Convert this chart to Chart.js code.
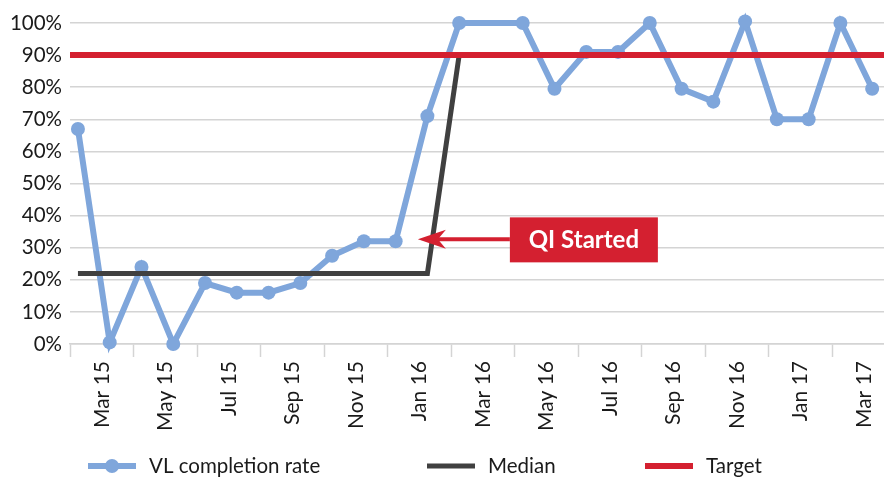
<!DOCTYPE html>
<html><head><meta charset="utf-8">
<script src="https://cdn.jsdelivr.net/npm/chart.js@4.4.0/dist/chart.umd.min.js"></script>
<style>
html,body{margin:0;padding:0;overflow:hidden;background:#fff;width:884px;height:477px}
#wrap{position:relative;width:910px;height:490px}
</style>
</head><body><div id="wrap"><canvas id="c" width="910" height="490"></canvas></div>
<script>
// ---- data ----
const months = ['Feb 15','Mar 15','Apr 15','May 15','Jun 15','Jul 15','Aug 15','Sep 15','Oct 15','Nov 15','Dec 15','Jan 16',
  'Feb 16','Mar 16','Apr 16','May 16','Jun 16','Jul 16','Aug 16','Sep 16','Oct 16','Nov 16','Dec 16','Jan 17','Feb 17','Mar 17'];
const vlCompletion = [67, 0.5, 24, 0, 19, 16, 16, 19, 27.5, 32, 32, 71,
  100, null, 100, 79.5, 91, 91, 100, 79.5, 75.5, 100.5, 70, 70, 100, 79.5];
const medianValues = [22,22,22,22,22,22,22,22,22,22,22,22,
  90,90,90,90,90,90,90,90,90,90,90,90,90,90];
const targetValue = 90;
const yTickValues = [0,10,20,30,40,50,60,70,80,90,100];
const legendNames = ['VL completion rate','Median','Target'];
const annotationText = 'QI Started';

// ---- styles ----
const BLUE = '#7fa6db', DARK = '#404040', RED = '#d42030', GRID = '#d4d4d4', TXT = '#1a1a1a';
const FONT = 'Lato, "Open Sans", sans-serif';
const X_MIN = -0.25, X_MAX = months.length - 0.25;

const blueData = months.map((m, i) => ({x: i, y: vlCompletion[i]}));
const medianData = months.map((m, i) => ({x: i, y: medianValues[i]}));
const targetData = [{x: X_MIN, y: targetValue}, {x: X_MAX, y: targetValue}];

const annotationPlugin = {
  id: 'qiAnnot',
  afterDatasetsDraw(chart) {
    const {ctx, scales: {x, y}} = chart;
    const tipX = x.getPixelForValue(10.7), tipY = y.getPixelForValue(32.6);
    const boxL = tipX + 92, boxW = 148, boxH = 45;
    ctx.save();
    ctx.fillStyle = RED;
    ctx.fillRect(boxL, tipY - 22, boxW, boxH);
    ctx.strokeStyle = RED; ctx.lineWidth = 4;
    ctx.beginPath(); ctx.moveTo(boxL, tipY); ctx.lineTo(tipX + 20, tipY); ctx.stroke();
    ctx.beginPath();
    ctx.moveTo(tipX, tipY); ctx.lineTo(tipX + 28, tipY - 9.5); ctx.lineTo(tipX + 20, tipY); ctx.lineTo(tipX + 28, tipY + 9.5);
    ctx.closePath(); ctx.fill();
    ctx.fillStyle = '#fff';
    ctx.font = 'bold 24px ' + FONT;
    ctx.textAlign = 'center'; ctx.textBaseline = 'middle';
    ctx.fillText(annotationText, boxL + boxW / 2, tipY + 1);
    ctx.restore();
  }
};

const legendPlugin = {
  id: 'customLegend',
  afterDraw(chart) {
    const ctx = chart.ctx;
    const cy = 466;
    const items = [
      {x: 88, color: BLUE, w: 6, dot: true, text: legendNames[0]},
      {x: 427, color: DARK, w: 5, dot: false, text: legendNames[1]},
      {x: 645, color: RED, w: 6, dot: false, text: legendNames[2]}
    ];
    ctx.save();
    items.forEach(it => {
      ctx.strokeStyle = it.color; ctx.lineWidth = it.w;
      ctx.beginPath(); ctx.moveTo(it.x, cy); ctx.lineTo(it.x + 48, cy); ctx.stroke();
      if (it.dot) {
        ctx.fillStyle = it.color;
        ctx.beginPath(); ctx.arc(it.x + 24, cy, 7, 0, Math.PI * 2); ctx.fill();
      }
      ctx.fillStyle = TXT;
      ctx.font = '20.5px ' + FONT;
      ctx.textAlign = 'left'; ctx.textBaseline = 'middle';
      ctx.fillText(it.text, it.x + 61, cy);
    });
    ctx.restore();
  }
};

new Chart(document.getElementById('c'), {
  type: 'line',
  data: {
    datasets: [
      {label: legendNames[0], data: blueData, borderColor: BLUE, backgroundColor: BLUE, borderWidth: 6,
       pointRadius: 7, pointHoverRadius: 7, pointBorderWidth: 0, pointBackgroundColor: BLUE,
       spanGaps: true, tension: 0, order: 3, clip: false},
      {label: legendNames[1], data: medianData, borderColor: DARK, borderWidth: 5, pointRadius: 0,
       tension: 0, order: 2, clip: false},
      {label: legendNames[2], data: targetData, borderColor: RED, borderWidth: 6, pointRadius: 0,
       tension: 0, order: 1, clip: false}
    ]
  },
  options: {
    responsive: false,
    animation: false,
    devicePixelRatio: 1,
    layout: {padding: {left: 0, right: 14, top: 23, bottom: 50}},
    plugins: {legend: {display: false}, tooltip: {enabled: false}},
    scales: {
      x: {
        type: 'linear', min: X_MIN, max: X_MAX,
        afterBuildTicks: axis => { axis.ticks = months.concat(['']).map((m, k) => ({value: X_MIN + k})); },
        afterFit: axis => { axis.height = 96; axis.paddingLeft = 0; axis.paddingRight = 0; },
        grid: {drawOnChartArea: false, drawTicks: true, tickLength: 13, tickWidth: 1.5,
               tickColor: c => (c.index % 2 === 0 ? GRID : 'rgba(0,0,0,0)')},
        border: {display: true, color: GRID, width: 1.5},
        ticks: {autoSkip: false, maxRotation: 90, minRotation: 90, padding: 4, color: TXT,
                font: {family: FONT, size: 21},
                callback: (v, k) => (k % 2 === 1 ? months[k] : '')}
      },
      y: {
        min: 0, max: 100,
        afterBuildTicks: axis => { axis.ticks = yTickValues.map(v => ({value: v})); },
        afterFit: axis => { axis.width = 70; },
        grid: {color: GRID, lineWidth: 1.5, drawTicks: false},
        border: {display: false},
        ticks: {padding: 8, color: TXT, font: {family: FONT, size: 20.5}, callback: v => v + '%'}
      }
    }
  },
  plugins: [annotationPlugin, legendPlugin]
});
</script>
</body></html>
